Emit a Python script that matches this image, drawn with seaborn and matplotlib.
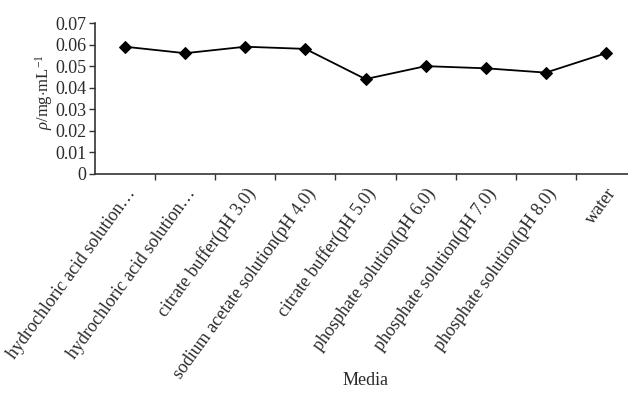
import matplotlib
matplotlib.use("Agg")
import matplotlib.pyplot as plt
import seaborn as sns
import pandas as pd

media = [
    "hydrochloric acid solution\u2026",
    "hydrochloric acid solution\u2026",
    "citrate buffer(pH 3.0)",
    "sodium acetate solution(pH 4.0)",
    "citrate buffer(pH 5.0)",
    "phosphate solution(pH 6.0)",
    "phosphate solution(pH 7.0)",
    "phosphate solution(pH 8.0)",
    "water",
]
concentration = [0.059, 0.056, 0.059, 0.058, 0.044, 0.050, 0.049, 0.047, 0.056]
y_ticks = [0, 0.01, 0.02, 0.03, 0.04, 0.05, 0.06, 0.07]
y_tick_labels = ["0", "0.01", "0.02", "0.03", "0.04", "0.05", "0.06", "0.07"]

sns.set_style("ticks")
plt.rcParams["font.family"] = ["Liberation Serif", "DejaVu Serif"]
plt.rcParams["mathtext.fontset"] = "custom"
plt.rcParams["mathtext.rm"] = "Liberation Serif"
plt.rcParams["mathtext.it"] = "Liberation Serif:italic"

text_color = "#2a2a2a"
fs = 13

df = pd.DataFrame({"pos": range(len(media)), "rho": concentration})

fig = plt.figure(figsize=(6.28, 3.98), dpi=100)
ax = fig.add_axes([95 / 628, 1 - 174 / 398, 541 / 628, 151 / 398])

sns.lineplot(data=df, x="pos", y="rho", ax=ax, color="black", linewidth=1.3,
             marker="D", markersize=6.5, markeredgecolor="black",
             markerfacecolor="black", clip_on=False)

ax.set_xlim(-0.5, len(media) - 0.5)
ax.set_ylim(0, 0.07)
ax.set_yticks(y_ticks)
ax.set_yticklabels(y_tick_labels, fontsize=fs, color=text_color)

# category labels sit between the boundary tick marks
ax.set_xticks(range(len(media)))
ax.set_xticklabels(media, rotation=54, ha="right", rotation_mode="anchor",
                   fontsize=fs, color=text_color)
ax.set_xticks([i + 0.5 for i in range(len(media) - 1)], minor=True)
ax.tick_params(axis="x", which="major", length=0, pad=8)
ax.tick_params(axis="x", which="minor", length=4, width=1, color="#333333")
ax.tick_params(axis="y", length=4, width=1, color="#333333", pad=2)

for side in ("top", "right"):
    ax.spines[side].set_visible(False)
for side in ("left", "bottom"):
    ax.spines[side].set_linewidth(1.2)
    ax.spines[side].set_color("#333333")

ax.set_xlabel("Media", fontsize=fs, color=text_color, va="center")
ax.xaxis.set_label_coords(0.5, -1.37)
ax.set_ylabel(r"$\rho/\mathrm{mg{\cdot}mL^{-1}}$", fontsize=12, color=text_color)
ax.yaxis.set_label_coords(-0.074, 0.54)

fig.savefig("out.png", dpi=100)
